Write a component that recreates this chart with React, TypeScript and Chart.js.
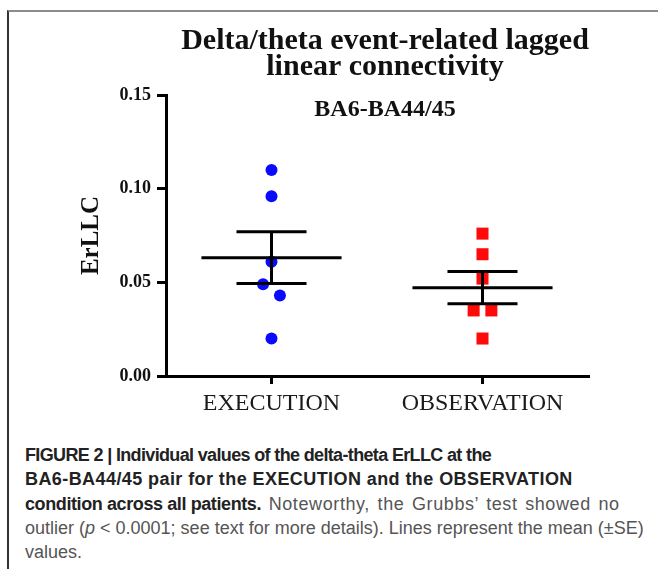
import React, { useEffect, useRef } from "react";
import { Chart, registerables } from "chart.js";

Chart.register(...registerables);

// ---- data ----
const categories = ["EXECUTION", "OBSERVATION"];
const executionValues = [0.11, 0.096, 0.061, 0.049, 0.043, 0.02];
const executionJitter = [0, 0, 0, -0.04, 0.04, 0];
const observationValues = [0.076, 0.065, 0.052, 0.035, 0.035, 0.02];
const observationJitter = [0, 0, 0, -0.042, 0.042, 0];
const yTicks = [0, 0.05, 0.1, 0.15];
const titleLines = ["Delta/theta event-related lagged", "linear connectivity"];
const subtitleText = "BA6-BA44/45";
const yAxisTitle = "ErLLC";

const SERIF = '"Liberation Serif", "Times New Roman", serif';

function mean(v: number[]) {
  return v.reduce((a, b) => a + b, 0) / v.length;
}
function stdErr(v: number[]) {
  const m = mean(v);
  const ss = v.reduce((a, b) => a + (b - m) * (b - m), 0);
  return Math.sqrt(ss / (v.length - 1)) / Math.sqrt(v.length);
}

// mean line (long) + SE caps (short) + vertical SE bar, gaps via null
function summaryPath(center: number, values: number[]) {
  const m = mean(values);
  const se = stdErr(values);
  const W = 0.332;
  const w = 0.166;
  return [
    { x: center - W, y: m },
    { x: center + W, y: m },
    { x: center, y: null },
    { x: center - w, y: m + se },
    { x: center + w, y: m + se },
    { x: center, y: null },
    { x: center - w, y: m - se },
    { x: center + w, y: m - se },
    { x: center, y: null },
    { x: center, y: m + se },
    { x: center, y: m - se },
  ];
}

const titlePlugin = {
  id: "figureTitles",
  afterDraw(chart: any) {
    const ctx = chart.ctx as CanvasRenderingContext2D;
    const cx = (chart.chartArea.left + chart.chartArea.right) / 2 + 8;
    ctx.save();
    ctx.fillStyle = "#111";
    ctx.textAlign = "center";
    ctx.textBaseline = "alphabetic";
    ctx.font = `bold 30px ${SERIF}`;
    ctx.fillText(titleLines[0], cx, 49);
    ctx.fillText(titleLines[1], cx, 75);
    ctx.font = `bold 24px ${SERIF}`;
    ctx.fillText(subtitleText, cx, 116);
    ctx.restore();
  },
};

export default function App() {
  const canvasRef = useRef<HTMLCanvasElement | null>(null);

  useEffect(() => {
    if (!canvasRef.current) return;
    const lineStyle = {
      type: "line" as const,
      borderColor: "#000",
      borderWidth: 3,
      pointRadius: 0,
      pointHoverRadius: 0,
      fill: false,
      spanGaps: false,
      tension: 0,
    };
    const chart = new Chart(canvasRef.current, {
      type: "scatter",
      data: {
        datasets: [
          { ...lineStyle, label: "EXECUTION mean ± SE", data: summaryPath(1, executionValues) as any },
          { ...lineStyle, label: "OBSERVATION mean ± SE", data: summaryPath(2, observationValues) as any },
          {
            label: categories[0],
            data: executionValues.map((v, i) => ({ x: 1 + executionJitter[i], y: v })),
            pointStyle: "circle",
            pointRadius: 6,
            pointHoverRadius: 6,
            backgroundColor: "#0a0aff",
            borderWidth: 0,
          },
          {
            label: categories[1],
            data: observationValues.map((v, i) => ({ x: 2 + observationJitter[i], y: v })),
            pointStyle: "rect",
            pointRadius: 8.5,
            pointHoverRadius: 8.5,
            backgroundColor: "#ff0a0a",
            borderWidth: 0,
          },
        ],
      },
      options: {
        animation: false,
        responsive: false,
        devicePixelRatio: 1,
        events: [],
        layout: { padding: { left: 60, top: 95, right: 70, bottom: 0 } },
        plugins: {
          legend: { display: false },
          tooltip: { enabled: false },
          title: { display: false },
        },
        scales: {
          x: {
            type: "linear",
            min: 0.5,
            max: 2.5,
            afterBuildTicks: (s: any) => {
              s.ticks = categories.map((_, i) => ({ value: i + 1 }));
            },
            afterFit: (s: any) => {
              s.height = 64;
            },
            ticks: {
              autoSkip: false,
              maxRotation: 0,
              padding: 5,
              color: "#1a1a1a",
              font: { family: SERIF, size: 24 },
              callback: (v: any) => categories[Math.round(Number(v)) - 1] ?? "",
            },
            grid: {
              display: true,
              drawOnChartArea: false,
              drawTicks: true,
              tickLength: 8,
              tickWidth: 3,
              tickColor: "#000",
              color: "#000",
              lineWidth: 3,
            },
            border: { display: true, color: "#000", width: 3 },
          },
          y: {
            type: "linear",
            min: 0,
            max: 0.15,
            afterBuildTicks: (s: any) => {
              s.ticks = yTicks.map((v) => ({ value: v }));
            },
            afterFit: (s: any) => {
              s.width = 106;
            },
            ticks: {
              padding: 6,
              color: "#111",
              font: { family: SERIF, size: 18, weight: "bold" },
              callback: (v: any) => Number(v).toFixed(2),
            },
            grid: {
              display: true,
              drawOnChartArea: false,
              drawTicks: true,
              tickLength: 9,
              tickWidth: 3,
              tickColor: "#000",
              color: "#000",
              lineWidth: 3,
            },
            border: { display: true, color: "#000", width: 3 },
            title: {
              display: true,
              text: yAxisTitle,
              color: "#111",
              font: { family: SERIF, size: 25, weight: "bold" },
              padding: { top: 17, bottom: 0 },
            },
          },
        },
      },
      plugins: [titlePlugin],
    });
    return () => chart.destroy();
  }, []);

  const sans = '"Liberation Sans", Arial, Helvetica, sans-serif';
  const bold = { fontWeight: "bold" as const, color: "#222" };

  return (
    <div
      style={{
        position: "absolute",
        left: 0,
        top: 0,
        width: 658,
        height: 569,
        overflow: "hidden",
        background: "#fff",
      }}
    >
      <div
        style={{
          position: "absolute",
          left: 7,
          top: 10,
          width: 651,
          height: 559,
          boxSizing: "border-box",
          borderTop: "2px solid #8c8c8c",
          borderLeft: "2px solid #333",
        }}
      />
      <canvas
        ref={canvasRef}
        width={658}
        height={440}
        style={{ position: "absolute", left: 0, top: 0, width: 658, height: 440 }}
      />
      <div
        style={{
          position: "absolute",
          left: 25,
          top: 443,
          fontFamily: sans,
          fontSize: 18,
          lineHeight: "24.3px",
          whiteSpace: "nowrap",
          color: "#555",
        }}
      >
        <span style={{ ...bold, letterSpacing: "-0.65px" }}>
          FIGURE 2 | Individual values of the delta-theta ErLLC at the
        </span>
        <br />
        <span style={{ ...bold, letterSpacing: "0.42px" }}>
          BA6-BA44/45 pair for the EXECUTION and the OBSERVATION
        </span>
        <br />
        <span style={{ ...bold, letterSpacing: "-0.4px" }}>condition across all patients.</span>
        <span style={{ letterSpacing: "0.6px", wordSpacing: "2px" }}> Noteworthy, the Grubbs’ test showed no</span>
        <br />
        <span>
          outlier (<i>p</i> &lt; 0.0001; see text for more details). Lines represent the mean (±SE)
        </span>
        <br />
        <span>values.</span>
      </div>
    </div>
  );
}
